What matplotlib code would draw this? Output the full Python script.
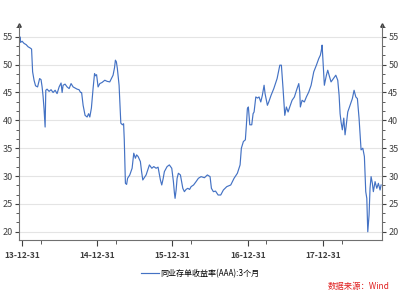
import numpy as np
import pandas as pd
import matplotlib
matplotlib.use('Agg')
import matplotlib.pyplot as plt
import matplotlib.dates as mdates
from matplotlib.ticker import MultipleLocator, AutoMinorLocator

plt.rcParams['font.family'] = ['Noto Sans CJK SC', 'DejaVu Sans']

# time in fractional years (2014.0 = 2013-12-31)
years = [2013.963, 2013.970, 2013.980, 2014.000, 2014.027, 2014.053, 2014.080, 2014.106,
         2014.126, 2014.140, 2014.159, 2014.179, 2014.206, 2014.233, 2014.252, 2014.266,
         2014.279, 2014.292, 2014.306, 2014.315, 2014.332, 2014.359, 2014.385, 2014.412,
         2014.439, 2014.465, 2014.492, 2014.518, 2014.532, 2014.545, 2014.571, 2014.598,
         2014.625, 2014.651, 2014.678, 2014.704, 2014.731, 2014.757, 2014.777, 2014.791,
         2014.811, 2014.837, 2014.864, 2014.884, 2014.900, 2014.921, 2014.944, 2014.963,
         2014.977, 2014.990, 2015.010, 2015.033, 2015.063, 2015.099, 2015.130, 2015.165,
         2015.209, 2015.229, 2015.240, 2015.253, 2015.266, 2015.289, 2015.312, 2015.333,
         2015.349, 2015.358, 2015.373, 2015.389, 2015.402, 2015.431, 2015.462, 2015.484,
         2015.506, 2015.522, 2015.542, 2015.572, 2015.588, 2015.604, 2015.628, 2015.648,
         2015.668, 2015.692, 2015.724, 2015.750, 2015.781, 2015.807, 2015.838, 2015.856,
         2015.874, 2015.891, 2015.927, 2015.957, 2015.989, 2016.011, 2016.024, 2016.033,
         2016.047, 2016.060, 2016.077, 2016.104, 2016.120, 2016.136, 2016.157, 2016.179,
         2016.202, 2016.226, 2016.246, 2016.279, 2016.312, 2016.343, 2016.379, 2016.423,
         2016.462, 2016.498, 2016.516, 2016.542, 2016.571, 2016.605, 2016.640, 2016.675,
         2016.720, 2016.773, 2016.817, 2016.861, 2016.897, 2016.914, 2016.941, 2016.967,
         2016.981, 2016.994, 2017.007, 2017.026, 2017.052, 2017.070, 2017.083, 2017.106,
         2017.130, 2017.149, 2017.172, 2017.193, 2017.216, 2017.229, 2017.260, 2017.278,
         2017.309, 2017.345, 2017.389, 2017.425, 2017.446, 2017.468, 2017.491, 2017.512,
         2017.535, 2017.557, 2017.588, 2017.619, 2017.654, 2017.677, 2017.690, 2017.698,
         2017.721, 2017.751, 2017.778, 2017.810, 2017.841, 2017.876, 2017.911, 2017.943,
         2017.964, 2017.976, 2017.987, 2018.000, 2018.017, 2018.044, 2018.062, 2018.080,
         2018.106, 2018.137, 2018.169, 2018.195, 2018.213, 2018.226, 2018.239, 2018.256,
         2018.275, 2018.292, 2018.306, 2018.328, 2018.359, 2018.389, 2018.412, 2018.435,
         2018.456, 2018.478, 2018.505, 2018.528, 2018.549, 2018.567, 2018.581, 2018.594,
         2018.611, 2018.624, 2018.638, 2018.655, 2018.668, 2018.691, 2018.714, 2018.735,
         2018.757, 2018.771]

rates = [53.5, 55.0, 54.0, 54.2, 53.8, 53.6, 53.2, 53.0,
         52.8, 48.7, 47.2, 46.2, 46.0, 47.5, 47.3, 46.0,
         44.3, 42.0, 38.8, 45.4, 45.6, 45.2, 45.5, 45.0,
         45.4, 44.8, 46.0, 46.7, 45.0, 46.3, 46.5, 46.0,
         45.7, 46.6, 46.0, 45.8, 45.6, 45.5, 45.0, 45.0,
         42.7, 40.9, 40.6, 41.2, 40.6, 42.2, 45.8, 48.4,
         48.0, 48.2, 46.0, 46.6, 46.8, 47.2, 47.0, 46.9,
         48.1, 49.5, 50.8, 50.5, 49.3, 46.3, 39.5, 39.2,
         39.4, 36.5, 28.7, 28.5, 29.6, 30.2, 31.4, 34.1,
         33.2, 33.8, 33.5, 32.6, 30.8, 29.3, 29.8, 30.2,
         31.0, 32.0, 31.4, 31.7, 31.4, 31.6, 29.3, 28.4,
         29.5, 30.8, 31.7, 32.0, 31.4, 29.0, 27.0, 26.0,
         27.5, 29.6, 30.5, 30.2, 29.0, 27.8, 27.2, 27.6,
         27.8, 27.6, 28.1, 28.4, 29.0, 29.6, 29.9, 29.7,
         30.2, 29.9, 27.8, 27.2, 27.3, 26.6, 26.6, 27.5,
         28.1, 28.4, 29.6, 30.5, 32.0, 35.0, 36.2, 36.5,
         39.2, 42.1, 42.4, 39.2, 39.2, 41.2, 41.5, 44.2,
         44.0, 44.2, 43.3, 44.5, 46.3, 44.8, 42.7, 43.3,
         44.5, 45.7, 47.5, 49.9, 49.9, 45.7, 40.9, 42.4,
         41.5, 42.4, 43.6, 44.2, 45.7, 46.6, 45.1, 42.4,
         43.6, 43.3, 44.2, 45.1, 46.3, 48.7, 49.9, 51.1,
         51.7, 52.5, 53.5, 50.5, 46.3, 48.1, 49.0, 48.1,
         46.9, 47.5, 48.1, 47.2, 44.5, 41.2, 39.7, 38.3,
         40.4, 37.4, 38.9, 41.5, 42.7, 43.9, 45.4, 44.2,
         43.9, 40.4, 34.7, 35.0, 33.5, 27.2, 26.0, 20.0,
         23.0, 27.8, 29.9, 28.7, 27.2, 29.0, 27.8, 28.7,
         27.5, 28.4]

tick_labels = ['13-12-31', '14-12-31', '15-12-31', '16-12-31', '17-12-31']
series_name = '同业存单收益率(AAA):3个月'
source_text = '数据来源：Wind'

base = pd.Timestamp('2013-12-31')
dates = [base + pd.Timedelta(days=(y - 2014) * 365.25) for y in years]

fig = plt.figure(figsize=(4, 2.95), dpi=100)
ax = fig.add_axes([0.0475, 0.186, 0.9075, 0.729])

ax.plot(dates, rates, color='#4472c4', lw=0.85)

ax.set_ylim(18.5, 57.1)
ax.set_xlim(base + pd.Timedelta(days=-15), base + pd.Timedelta(days=1747))
ax.yaxis.set_major_locator(MultipleLocator(5))
ax.yaxis.set_minor_locator(AutoMinorLocator(3))
ax.grid(axis='y', color='#e4e4e4', lw=0.8)
ax.set_axisbelow(True)

tick_dates = [pd.Timestamp(f'{y}-12-31') for y in range(2013, 2018)]
ax.set_xticks(tick_dates)
ax.set_xticklabels(tick_labels)
ax.xaxis.set_minor_locator(mdates.MonthLocator(bymonth=[3, 6, 9, 12], bymonthday=31))

for s in ['left', 'right', 'bottom']:
    ax.spines[s].set_color('#707070')
    ax.spines[s].set_linewidth(0.8)
ax.spines['top'].set_visible(False)

ax.tick_params(axis='y', which='both', direction='out', left=True, right=True,
               labelleft=True, labelright=True, labelsize=6.5, colors='#404040',
               pad=1.5)
ax.tick_params(axis='y', which='major', length=3)
ax.tick_params(axis='y', which='minor', length=2)
ax.tick_params(axis='x', which='both', direction='out', labelsize=6, colors='#404040',
               pad=4)
ax.tick_params(axis='x', which='major', length=4)
ax.tick_params(axis='x', which='minor', length=3)
for lab in ax.get_xticklabels():
    lab.set_fontweight('bold')

# little arrow heads on the value axes
ax.plot([0, 1], [1, 1], marker='^', ms=2.5, color='#404040', ls='none',
        transform=ax.transAxes, clip_on=False)

leg = ax.legend([ax.lines[0]], [series_name], loc='upper center',
                bbox_to_anchor=(0.5, -0.1), frameon=False, fontsize=5.8,
                handlelength=2.2, handletextpad=0.2)

fig.text(0.975, 0.015, source_text, color='#e02020', fontsize=6,
         style='italic', ha='right', va='bottom')

fig.savefig('out.png', dpi=100)
